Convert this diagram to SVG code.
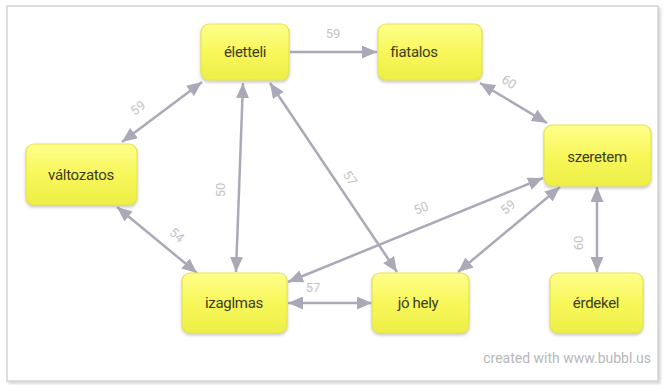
<svg xmlns="http://www.w3.org/2000/svg" width="663" height="385" viewBox="0 0 663 385">
<defs>
<linearGradient id="yel" x1="0" y1="0" x2="0" y2="1">
<stop offset="0" stop-color="#ffff8c"/>
<stop offset="0.5" stop-color="#f7f75a"/>
<stop offset="1" stop-color="#eeee48"/>
</linearGradient>
<filter id="sh" x="-20%" y="-20%" width="140%" height="150%">
<feDropShadow dx="0" dy="2" stdDeviation="1.5" flood-color="#888" flood-opacity="0.45"/>
</filter>
<filter id="fsh" x="-5%" y="-5%" width="110%" height="110%">
<feDropShadow dx="2" dy="2" stdDeviation="1.5" flood-color="#999" flood-opacity="0.4"/>
</filter>
<marker id="ah" viewBox="0 0 15 13" refX="15" refY="6.5" markerWidth="15" markerHeight="13" markerUnits="userSpaceOnUse" orient="auto-start-reverse">
<path d="M0,0 L15,6.5 L0,13 z" fill="#a9a9b8"/>
</marker>
</defs>
<style>
.node rect{fill:url(#yel);stroke:#e4e450;stroke-width:1.2;filter:url(#sh)}
.node text{font-family:Roboto,"Liberation Sans",sans-serif;font-size:15px;fill:#3c3c20;text-anchor:middle;dominant-baseline:central;letter-spacing:-0.3px}
.edge{fill:none;stroke:#a9a9b8;stroke-width:2.5}
.bi{marker-start:url(#ah);marker-end:url(#ah)}
.uni{marker-end:url(#ah)}
.lbl{font-family:Roboto,"Liberation Sans",sans-serif;font-size:13px;fill:#c4c4c8;text-anchor:middle;dominant-baseline:central}
</style>
<rect x="0" y="0" width="663" height="385" fill="#ffffff"/>
<rect x="7" y="6" width="651" height="375" fill="#ffffff" stroke="#d4d4d4" stroke-width="1.5" filter="url(#fsh)"/>
<g id="connectors">
<path class="edge uni" d="M290,52 L377,52"/>
<path class="edge bi" d="M122,142 L202,82"/>
<path class="edge bi" d="M117,207 L197,273"/>
<path class="edge bi" d="M236,272 L243,83"/>
<path class="edge bi" d="M270,83 L397,272"/>
<path class="edge bi" d="M480,83 L547,123"/>
<path class="edge bi" d="M288,282 L543,178"/>
<path class="edge bi" d="M458,272 L560,187"/>
<path class="edge bi" d="M597,187 L597,272"/>
<path class="edge bi" d="M288,303 L372,303"/>
<text class="lbl" x="333" y="33">59</text>
<text class="lbl" transform="translate(138,108) rotate(-37)">59</text>
<text class="lbl" transform="translate(177,235) rotate(40)">54</text>
<text class="lbl" transform="translate(220,190) rotate(-90)">50</text>
<text class="lbl" transform="translate(350,178) rotate(56)">57</text>
<text class="lbl" transform="translate(509,82) rotate(33)">60</text>
<text class="lbl" transform="translate(421,208) rotate(-22)">50</text>
<text class="lbl" transform="translate(508,207) rotate(-40)">59</text>
<text class="lbl" transform="translate(578,243) rotate(-90)">60</text>
<text class="lbl" x="313" y="287">57</text>
</g>
<g id="n-eletteli" class="node"><rect x="201" y="24" width="88" height="56" rx="8"/><text x="245" y="52">életteli</text></g>
<g id="n-fiatalos" class="node"><rect x="378" y="24" width="104" height="56" rx="8"/><text x="414" y="52">fiatalos</text></g>
<g id="n-valtozatos" class="node"><rect x="26" y="144" width="111" height="61" rx="8"/><text x="81" y="175">változatos</text></g>
<g id="n-szeretem" class="node"><rect x="544" y="125" width="107" height="61" rx="8"/><text x="597" y="157">szeretem</text></g>
<g id="n-izaglmas" class="node"><rect x="182" y="273" width="105" height="60" rx="8"/><text x="234" y="303">izaglmas</text></g>
<g id="n-johely" class="node"><rect x="372" y="273" width="97" height="60" rx="8"/><text x="418" y="303">jó hely</text></g>
<g id="n-erdekel" class="node"><rect x="550" y="273" width="93" height="60" rx="8"/><text x="596" y="303">érdekel</text></g>
<text x="651" y="358" font-family="Roboto,'Liberation Sans',sans-serif" font-size="14" fill="#b8b8b8" text-anchor="end" dominant-baseline="central">created with www.bubbl.us</text>
</svg>
